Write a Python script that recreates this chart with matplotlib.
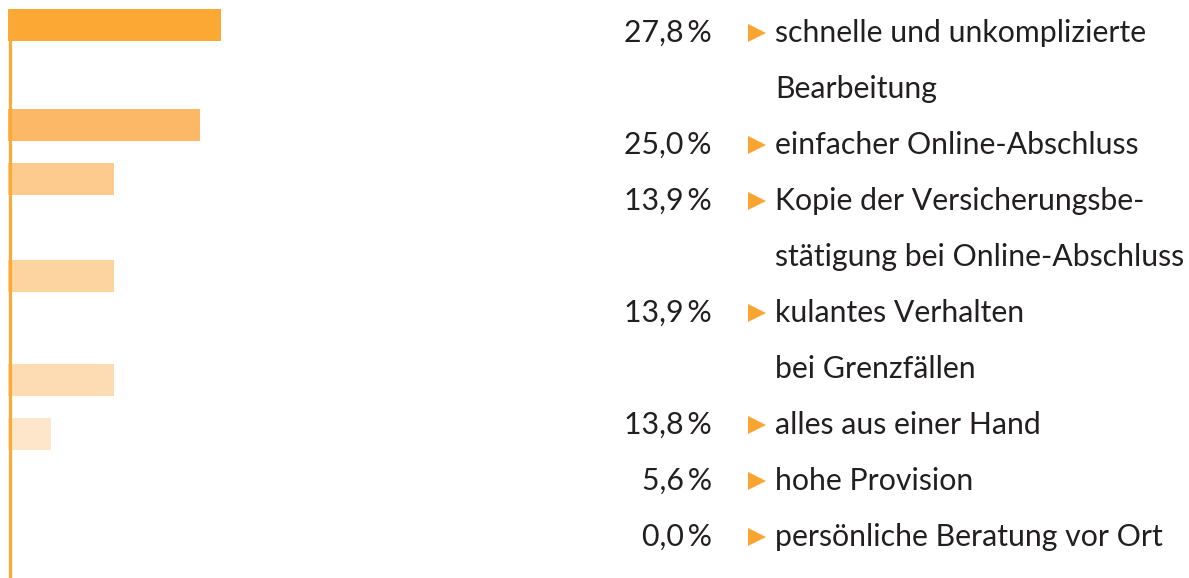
import matplotlib
matplotlib.use("Agg")
import matplotlib.pyplot as plt

# ---- data ----
percent_values = [27.8, 25.0, 13.9, 13.9, 13.8, 5.6, 0.0]
percent_labels = ["27,8\u2009%", "25,0\u2009%", "13,9\u2009%", "13,9\u2009%",
                  "13,8\u2009%", "5,6\u2009%", "0,0\u2009%"]
category_lines = [
    ["schnelle und unkomplizierte", "Bearbeitung"],
    ["einfacher Online-Abschluss"],
    ["Kopie der Versicherungsbe-", "stätigung bei Online-Abschluss"],
    ["kulantes Verhalten", "bei Grenzfällen"],
    ["alles aus einer Hand"],
    ["hohe Provision"],
    ["persönliche Beratung vor Ort"],
]

# ---- layout / style ----
W, H = 1189, 578
bar_centers_px = [25, 125, 178.5, 275.5, 380, 434, 520]
bar_height_px = 32
bar_colors = ["#FBA834", "#FCB866", "#FDCB8D", "#FDD39F", "#FDDCB4", "#FEE6CA", "#FEF0E0"]
px_per_pct = 7.66
x0_px = 8
line_color = "#FBAA3A"
text_color = "#231F20"
tri_color = "#F9A532"
font = "Lato"
fs = 21.8
first_baseline = 42
line_step = 56

fig = plt.figure(figsize=(W / 100, H / 100), dpi=100)
fig.patch.set_facecolor("white")

# bar axes: x in percent, y in pixels
axb = fig.add_axes([0, 0, 1, 1])
axb.set_xlim(-x0_px / px_per_pct, (W - x0_px) / px_per_pct)
axb.set_ylim(H, 0)
axb.axis("off")
axb.barh(bar_centers_px, percent_values, height=bar_height_px, left=0,
         color=bar_colors, edgecolor="none", zorder=2)
axb.vlines(0.2, 9, H, color=line_color, linewidth=2.3, zorder=3)

# text axes in pixel coords
axt = fig.add_axes([0, 0, 1, 1])
axt.set_xlim(0, W)
axt.set_ylim(H, 0)
axt.axis("off")
axt.patch.set_alpha(0)

row = 0
for pct, lines in zip(percent_labels, category_lines):
    y = first_baseline + line_step * row
    axt.text(712, y, pct, ha="right", va="baseline", fontsize=fs,
             family=[font, "DejaVu Sans"], color=text_color)
    axt.plot([756.5], [y - 9.5], marker=">", markersize=13, color=tri_color,
             markeredgewidth=0)
    for j, ln in enumerate(lines):
        axt.text(775, y + line_step * j, ln, ha="left", va="baseline",
                 fontsize=fs, family=[font, "DejaVu Sans"], color=text_color)
    row += len(lines)

fig.savefig("out.png", dpi=100, facecolor="white")
